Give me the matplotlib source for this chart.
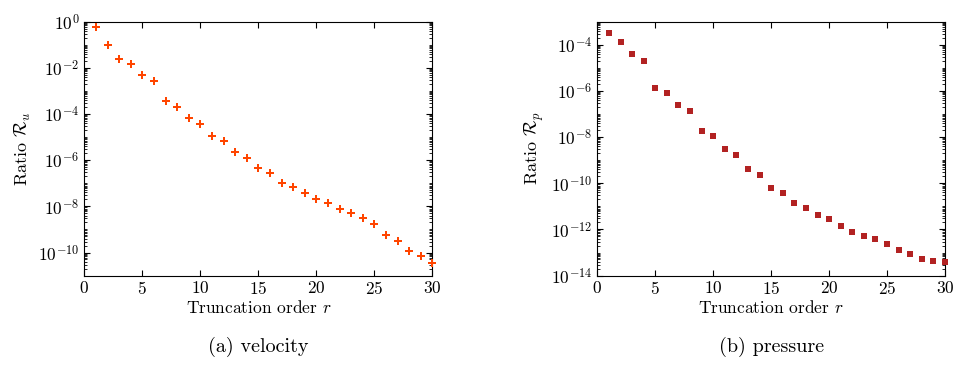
import numpy as np
import matplotlib
matplotlib.use("Agg")
import matplotlib.pyplot as plt
from matplotlib.ticker import LogLocator, NullFormatter

plt.rcParams['font.family'] = 'serif'
plt.rcParams['font.serif'] = ['cmr10']
plt.rcParams['mathtext.fontset'] = 'cm'
plt.rcParams['axes.formatter.use_mathtext'] = True
plt.rcParams['axes.unicode_minus'] = False

# Truncation order
r = np.arange(1, 31)

# Velocity ratio R_u
ratio_u = [5.9e-1, 1.0e-1, 2.5e-2, 1.4e-2, 4.8e-3, 2.6e-3, 3.5e-4, 2.1e-4,
           6.4e-5, 3.6e-5, 1.1e-5, 6.9e-6, 2.2e-6, 1.26e-6, 4.5e-7, 2.7e-7,
           1.05e-7, 7.0e-8, 3.9e-8, 2.1e-8, 1.4e-8, 7.9e-9, 5.3e-9, 3.0e-9,
           1.8e-9, 5.7e-10, 3.2e-10, 1.15e-10, 7.2e-11, 3.6e-11]

# Pressure ratio R_p
ratio_p = [3.3e-4, 1.35e-4, 4.1e-5, 2.0e-5, 1.4e-6, 8.1e-7, 2.5e-7, 1.36e-7,
           1.9e-8, 1.1e-8, 3.0e-9, 1.7e-9, 4.0e-10, 2.3e-10, 6.5e-11, 3.8e-11,
           1.4e-11, 8.5e-12, 4.3e-12, 2.8e-12, 1.47e-12, 7.8e-13, 5.4e-13,
           3.8e-13, 2.3e-13, 1.26e-13, 8.7e-14, 5.5e-14, 4.5e-14, 3.7e-14]

fig = plt.figure(figsize=(9.73, 3.67), dpi=100)
ax1 = fig.add_axes([0.0867, 0.249, 0.3577, 0.692])
ax2 = fig.add_axes([0.6139, 0.249, 0.3573, 0.692])

ax1.plot(r, ratio_u, linestyle='none', marker='P', color='#ff4500', markersize=5.6,
         markeredgewidth=0, clip_on=False, zorder=3)
ax2.plot(r, ratio_p, linestyle='none', marker='s', color='#b22222', markersize=3.8,
         markeredgewidth=0, clip_on=False, zorder=3)

ax1.set_ylim(1e-11, 1)
ax2.set_ylim(1e-14, 1e-3)
ax1.set_ylabel(r'Ratio $\mathcal{R}_u$', fontsize=13, labelpad=4)
ax2.set_ylabel(r'Ratio $\mathcal{R}_p$', fontsize=13, labelpad=4)

for ax in (ax1, ax2):
    ax.set_yscale('log')
    ax.set_xlim(0, 30)
    ax.set_xticks([0, 5, 10, 15, 20, 25, 30])
    ax.yaxis.set_major_locator(LogLocator(base=100))
    ax.yaxis.set_minor_locator(LogLocator(base=10, subs=np.arange(1, 10), numticks=100))
    ax.yaxis.set_minor_formatter(NullFormatter())
    ax.tick_params(which='both', direction='in', top=True, right=True, labelsize=12.5)
    ax.tick_params(which='major', length=4, width=0.8)
    ax.tick_params(which='minor', length=2, width=0.6)
    ax.set_xlabel(r'Truncation order $r$', fontsize=12.5, labelpad=1)

fig.text(0.0867 + 0.3577 / 2, 0.04, '(a) velocity', ha='center', fontsize=14.5)
fig.text(0.6139 + 0.3573 / 2, 0.04, '(b) pressure', ha='center', fontsize=14.5)

fig.savefig('out.png', dpi=100)
